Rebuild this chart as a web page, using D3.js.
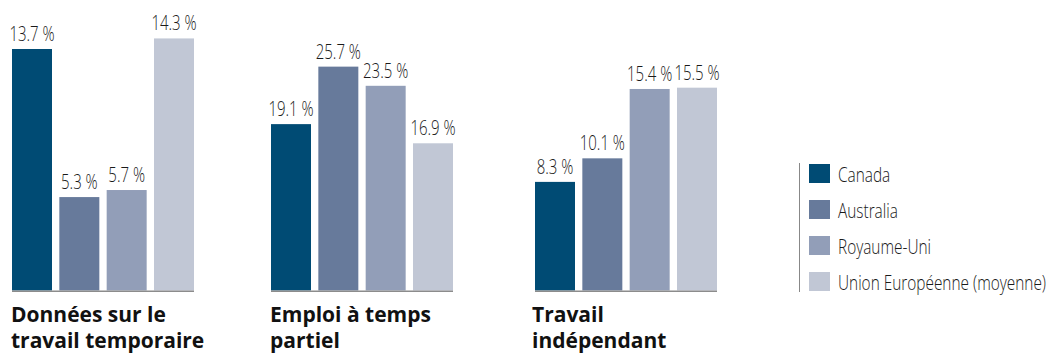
<!DOCTYPE html>
<html>
<head>
<meta charset="utf-8">
<script src="https://cdn.jsdelivr.net/npm/d3@7"></script>
<style>
  body { margin: 0; background: #fff; }
  .value, .legend-label { font-family: "Open Sans", "Noto Sans", sans-serif; font-weight: 300; font-size: 20px; fill: #1a1a1a; }
  .cat-title { font-family: "Open Sans", "Noto Sans", sans-serif; font-weight: bold; font-size: 21px; fill: #111; }
</style>
</head>
<body>
<svg id="chart" width="1051" height="356"></svg>
<script>
const width = 1051;
const height = 356;

/* DATA */
const countries = ["Canada", "Australia", "Royaume-Uni", "Union Européenne (moyenne)"];
const categories = [
  ["Données sur le", "travail temporaire"],
  ["Emploi à temps", "partiel"],
  ["Travail", "indépendant"]
];
const tempWork = [13.7, 5.3, 5.7, 14.3];
const partTime = [19.1, 25.7, 23.5, 16.9];
const selfEmployed = [8.3, 10.1, 15.4, 15.5];

const series = [tempWork, partTime, selfEmployed];

const colors = ["#004b74", "#677a9b", "#929eb8", "#c1c7d5"];

/* LAYOUT */
const baseline = 290.5;
const panelX = [12, 271, 535];
const panelWidth = 182;
// each panel has its own vertical scale in the original
const panelMax = [16.48, 33.35, 22.2];
// condensed look: no narrow font installed, so squeeze horizontally
const squeeze = 0.75;
const legendSqueeze = 0.77;

const svg = d3.select("svg#chart");

const scales = {
  x: d3.scaleBand().domain(countries).range([0, panelWidth]).paddingInner(0.155).paddingOuter(0),
  fill: d3.scaleOrdinal().domain(countries).range(colors)
};

drawPanels();
drawLegend();

function drawPanels() {
  series.forEach((values, i) => {
    const y = d3.scaleLinear().domain([0, panelMax[i]]).range([baseline, 0]);
    const rows = values.map((v, j) => ({ country: countries[j], value: v }));

    const g = svg.append("g").attr("transform", translate(panelX[i], 0));

    g.selectAll("rect.bar")
      .data(rows)
      .enter()
      .append("rect")
        .attr("class", "bar")
        .attr("x", d => scales.x(d.country))
        .attr("y", d => y(d.value))
        .attr("width", scales.x.bandwidth())
        .attr("height", d => baseline - y(d.value))
        .attr("fill", d => scales.fill(d.country));

    g.selectAll("text.value")
      .data(rows)
      .enter()
      .append("text")
        .attr("class", "value")
        .attr("transform", d => translate(scales.x(d.country) + scales.x.bandwidth() / 2, y(d.value) - 8) + " scale(" + squeeze + ",1)")
        .attr("text-anchor", "middle")
        .text(d => d3.format(".1f")(d.value) + " %");

    // baseline
    g.append("line")
      .attr("x1", 0)
      .attr("x2", panelWidth)
      .attr("y1", baseline + 0.75)
      .attr("y2", baseline + 0.75)
      .attr("stroke", "#8c8c8c")
      .attr("stroke-width", 1.5);

    const tx = i === 2 ? -3 : -1;
    const title = g.append("text")
      .attr("class", "cat-title")
      .attr("x", tx)
      .attr("y", 322);
    title.selectAll("tspan")
      .data(categories[i])
      .enter()
      .append("tspan")
        .attr("x", tx)
        .attr("dy", (d, k) => k === 0 ? 0 : 26)
        .text(d => d);
  });
}

function drawLegend() {
  const legend = svg.append("g").attr("transform", translate(799, 163));

  legend.append("line")
    .attr("x1", 0.5).attr("x2", 0.5)
    .attr("y1", 0).attr("y2", 129)
    .attr("stroke", "#888")
    .attr("stroke-width", 1);

  const items = legend.selectAll("g.item")
    .data(countries)
    .enter()
    .append("g")
      .attr("class", "item")
      .attr("transform", (d, i) => translate(10, 1 + i * 36));

  items.append("rect")
    .attr("width", 21)
    .attr("height", 19)
    .attr("fill", d => scales.fill(d));

  items.append("text")
    .attr("class", "legend-label")
    .attr("transform", translate(29, 18) + " scale(" + legendSqueeze + ",1)")
    .text(d => d);
}

function translate(x, y) {
  return "translate(" + String(x) + "," + String(y) + ")";
}
</script>
</body>
</html>
